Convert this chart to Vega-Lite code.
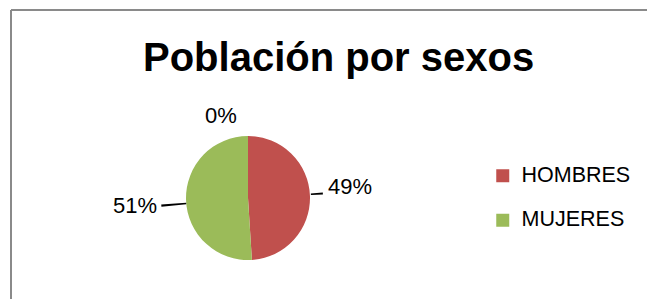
{
  "$schema": "https://vega.github.io/schema/vega-lite/v6.json",
  "width": 636,
  "height": 289,
  "autosize": {"type": "none"},
  "padding": {"left": 11, "top": 10, "right": 0, "bottom": 0},
  "background": "white",
  "view": {"stroke": "#8a8a8a", "strokeWidth": 2, "fill": "white", "strokeDash": [636, 925, 289, 0]},
  "title": {
    "text": "Población por sexos",
    "font": "Liberation Sans",
    "fontSize": 40,
    "fontWeight": "bold",
    "color": "#000000",
    "anchor": "start",
    "frame": "group",
    "baseline": "alphabetic",
    "offset": -101,
    "dx": 132
  },
  "data": {
    "values": [
      {"cat": "", "value": 0, "label": "0%"},
      {"cat": "HOMBRES", "value": 49, "label": "49%"},
      {"cat": "MUJERES", "value": 51, "label": "51%"}
    ]
  },
  "layer": [
    {
      "mark": {"type": "arc", "outerRadius": 62, "x": 237, "y": 188},
      "encoding": {
        "theta": {"field": "value", "type": "quantitative", "stack": true},
        "order": {"field": "cat", "sort": "ascending"},
        "color": {
          "field": "cat",
          "type": "nominal",
          "scale": {"domain": ["HOMBRES", "MUJERES", ""], "range": ["#c0504d", "#9bbb59", "#8064a2"]},
          "legend": {
            "orient": "none",
            "legendX": 481,
            "legendY": 155,
            "title": null,
            "values": ["HOMBRES", "MUJERES"],
            "symbolType": "square",
            "symbolSize": 169,
            "symbolStrokeWidth": 0,
            "labelFont": "Liberation Sans",
            "labelFontSize": 21.5,
            "labelColor": "#000000",
            "labelOffset": 8,
            "rowPadding": 21.5
          }
        }
      }
    },
    {
      "mark": {"type": "text", "x": 237, "y": 188, "radius": 82, "dx": -27, "font": "Liberation Sans", "fontSize": 22, "color": "#000000", "align": "center", "baseline": "middle"},
      "encoding": {
        "theta": {"field": "value", "type": "quantitative", "stack": true},
        "order": {"field": "cat", "sort": "ascending"},
        "text": {"condition": {"test": "datum.cat === ''", "field": "label"}, "value": ""}
      }
    },
    {
      "mark": {"type": "text", "x": 237, "y": 188, "radius": 102, "dy": -8, "font": "Liberation Sans", "fontSize": 22, "color": "#000000", "align": "center", "baseline": "middle"},
      "encoding": {
        "theta": {"field": "value", "type": "quantitative", "stack": true},
        "order": {"field": "cat", "sort": "ascending"},
        "text": {"condition": {"test": "datum.cat === 'HOMBRES'", "field": "label"}, "value": ""}
      }
    },
    {
      "mark": {"type": "text", "x": 237, "y": 188, "radius": 113, "dy": 4.5, "font": "Liberation Sans", "fontSize": 22, "color": "#000000", "align": "center", "baseline": "middle"},
      "encoding": {
        "theta": {"field": "value", "type": "quantitative", "stack": true},
        "order": {"field": "cat", "sort": "ascending"},
        "text": {"condition": {"test": "datum.cat === 'MUJERES'", "field": "label"}, "value": ""}
      }
    },
    {
      "transform": [{"filter": "datum.cat === 'HOMBRES'"}],
      "mark": {"type": "arc", "x": 237, "y": 188, "theta": 1.499, "theta2": 1.524, "radius": 75, "radius2": 63, "color": "#000000"},
      "encoding": {}
    },
    {
      "transform": [{"filter": "datum.cat === 'MUJERES'"}],
      "mark": {"type": "arc", "x": 237, "y": 188, "theta": 4.613, "theta2": 4.637, "radius": 87, "radius2": 62, "color": "#000000"},
      "encoding": {}
    }
  ]
}
